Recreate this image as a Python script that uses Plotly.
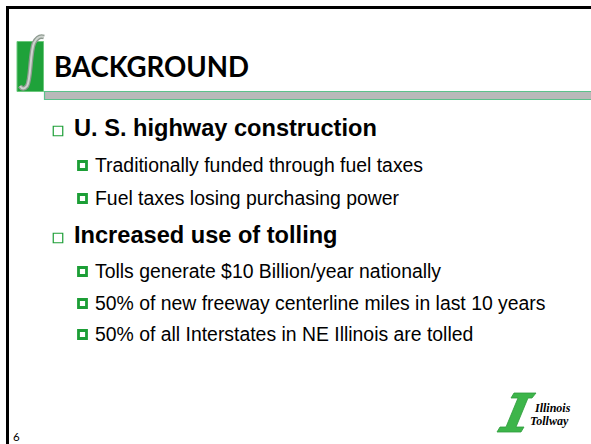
import plotly.graph_objects as go

# ---- slide content ----
title = "BACKGROUND"
level1_items = ["U. S. highway construction", "Increased use of tolling"]
level1_y = [128, 235]
level2_items = [
    "Traditionally funded through fuel taxes",
    "Fuel taxes losing purchasing power",
    "Tolls generate $10 Billion/year nationally",
    "50% of new freeway centerline miles in last 10 years",
    "50% of all Interstates in NE Illinois are tolled",
]
level2_y = [165, 198, 271, 303, 334]
page_number = "6"
logo_lines = ["Illinois", "Tollway"]

W, H = 591, 444
GREEN = "#1c9e36"

fig = go.Figure()

# bullets
fig.add_trace(go.Scatter(
    x=[58] * len(level1_y), y=[y + 3 for y in level1_y], mode="markers",
    marker=dict(symbol="square-open", size=9.5, color=GREEN, line=dict(width=1.2, color=GREEN)),
    hoverinfo="skip", showlegend=False))
fig.add_trace(go.Scatter(
    x=[82.5] * len(level2_y), y=[y + 0.5 for y in level2_y], mode="markers",
    marker=dict(symbol="square-open", size=8, color=GREEN, line=dict(width=2.8, color=GREEN)),
    hoverinfo="skip", showlegend=False))

shapes = []
# frame lines
shapes.append(dict(type="line", x0=6, x1=W + 2, y0=7.5, y1=7.5, line=dict(color="black", width=3)))
shapes.append(dict(type="line", x0=7.5, x1=7.5, y0=6, y1=H + 2, line=dict(color="black", width=3)))
# gray title bar with green outline
shapes.append(dict(type="rect", x0=44.5, x1=W + 2, y0=91.5, y1=99.5,
                   fillcolor="#b9b9b9", line=dict(color="#5cc28a", width=1.2)))
# green logo box
shapes.append(dict(type="rect", x0=17, x1=43.5, y0=41.5, y1=91.5,
                   fillcolor="#1fa23a", line=dict(color="#6cc87c", width=1)))
# integral-like S curve
s_path = "M 20,86 Q 23,91 27,86 C 31,80 30,52 34,43 Q 38,35 44,37"
shapes.append(dict(type="path", path=s_path, line=dict(color="#8e9a90", width=4.5)))
shapes.append(dict(type="path", path=s_path, line=dict(color="#cdd3ce", width=2)))
# Illinois Tollway logo mark (stylized slanted I)
logo_path = ("M 514,393 L 536,393 L 532,398 L 528,398 L 516,427 L 524,427 L 521,432 "
             "L 497,432 L 500,427 L 506,427 L 518,398 L 511,398 Z")
shapes.append(dict(type="path", path=logo_path, fillcolor="#3db54a", line=dict(color="#2f9c3c", width=0.8)))

annotations = []
annotations.append(dict(x=52, y=66, text=title, showarrow=False, xanchor="left", yanchor="middle",
                        font=dict(family="Lato", size=27.6, color="black", weight="bold")))
for t, y in zip(level1_items, level1_y):
    annotations.append(dict(x=72, y=y, text=t, showarrow=False, xanchor="left", yanchor="middle",
                            font=dict(family="Liberation Sans", size=23.6, color="black", weight="bold")))
for t, y in zip(level2_items, level2_y):
    annotations.append(dict(x=92.5, y=y, text=t, showarrow=False, xanchor="left", yanchor="middle",
                            font=dict(family="Liberation Sans", size=19.4, color="black")))
annotations.append(dict(x=11, y=436, text=page_number, showarrow=False, xanchor="left", yanchor="middle",
                        font=dict(family="Lato", size=11.5, color="black")))
for t, y, x in zip(logo_lines, [408, 421], [532, 528]):
    annotations.append(dict(x=x, y=y, text="<b><i>" + t + "</i></b>", showarrow=False, xanchor="left",
                            yanchor="middle", font=dict(family="Liberation Serif", size=12, color="black")))

fig.update_layout(
    width=W, height=H, margin=dict(l=0, r=0, t=0, b=0),
    paper_bgcolor="white", plot_bgcolor="white",
    xaxis=dict(range=[0, W], visible=False, fixedrange=True),
    yaxis=dict(range=[H, 0], visible=False, fixedrange=True),
    shapes=shapes, annotations=annotations, showlegend=False,
)
fig.write_html("out.html", config={"displayModeBar": False},
               post_script="document.body.style.margin='0';document.body.style.overflow='hidden';")
